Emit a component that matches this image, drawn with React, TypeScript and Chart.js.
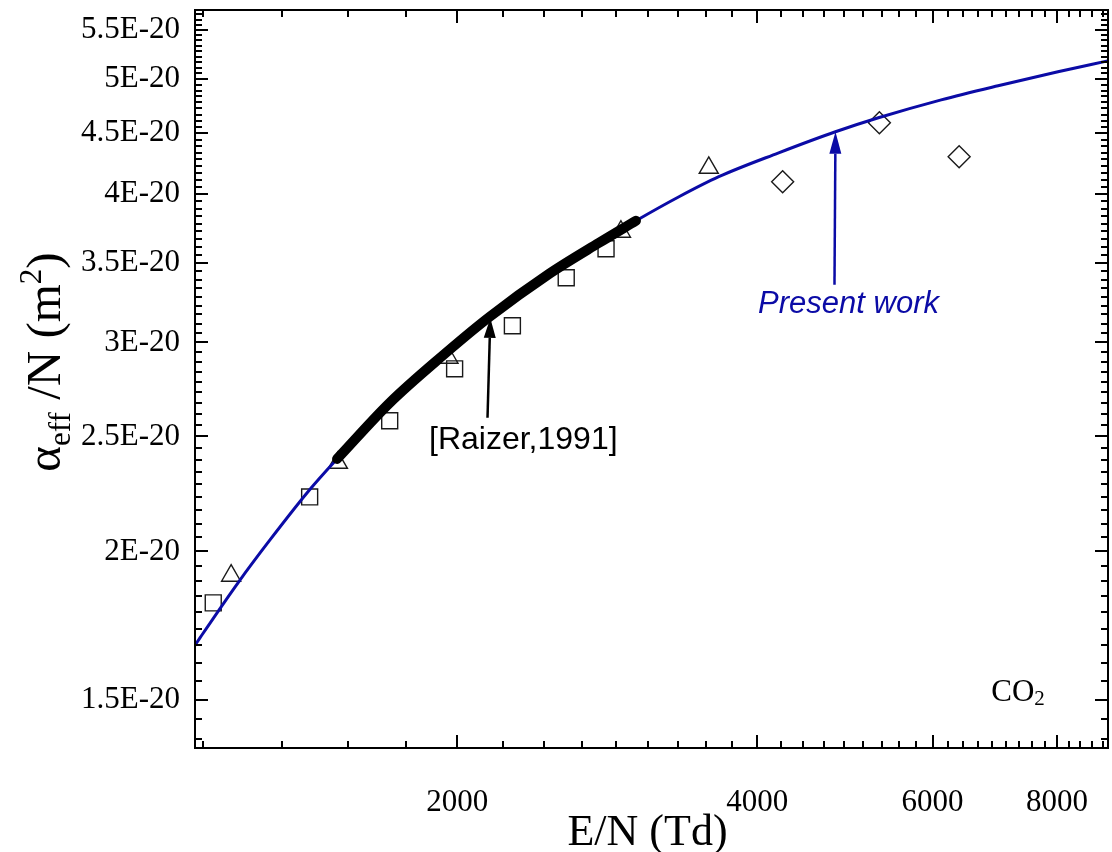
import React, { useEffect, useRef } from 'react';
import { Chart, registerables } from 'chart.js';

Chart.register(...registerables);

// ---- Data (E/N in Td, alpha_eff/N in m^2) ----
const presentWorkX = [1091, 1104, 1205, 1298, 1422, 1515, 1711, 1933, 2155, 2474, 2776, 3023, 3339, 3661, 4204, 4794, 5294, 6121, 6981, 8017, 8994];
const presentWorkY = [1.667e-20, 1.692e-20, 1.882e-20, 2.046e-20, 2.254e-20, 2.393e-20, 2.668e-20, 2.923e-20, 3.152e-20, 3.427e-20, 3.639e-20, 3.798e-20, 3.979e-20, 4.137e-20, 4.333e-20, 4.514e-20, 4.638e-20, 4.802e-20, 4.935e-20, 5.070e-20, 5.179e-20];

const raizerX = [1515, 1711, 1933, 2155, 2474, 2776, 3023];
const raizerY = [2.393e-20, 2.668e-20, 2.923e-20, 3.152e-20, 3.427e-20, 3.639e-20, 3.798e-20];

const squaresX = [1138, 1422, 1711, 1988, 2272, 2573, 2821];
const squaresY = [1.810e-20, 2.223e-20, 2.577e-20, 2.850e-20, 3.098e-20, 3.401e-20, 3.597e-20];

const trianglesX = [1186, 1518, 1960, 2920, 3577];
const trianglesY = [1.908e-20, 2.375e-20, 2.912e-20, 3.718e-20, 4.209e-20];

const diamondsX = [4243, 5306, 6380];
const diamondsY = [4.097e-20, 4.593e-20, 4.300e-20];

// ---- Axes ----
const xMin = 1091;
const xMax = 9000;
const yMin = 1.366e-20;
const yMax = 5.716e-20;
const xMajorTicks = [2000, 4000, 6000, 8000];
const xTickLabels = ['2000', '4000', '6000', '8000'];
const yMajorTicks = [1.5e-20, 2e-20, 2.5e-20, 3e-20, 3.5e-20, 4e-20, 4.5e-20, 5e-20, 5.5e-20];
const yTickLabels = ['1.5E-20', '2E-20', '2.5E-20', '3E-20', '3.5E-20', '4E-20', '4.5E-20', '5E-20', '5.5E-20'];
const minorPerMajor = 8;

// ---- Annotations (data coordinates) ----
const raizerLabel = { x: 2330, y: 2.483e-20, text: '[Raizer,1991]' };
const raizerArrow = { x0: 2145, y0: 2.592e-20, x1: 2159, y1: 3.146e-20 };
const presentLabel = { x: 4941, y: 3.227e-20, text: 'Present work' };
const presentArrow = { x0: 4783, y0: 3.355e-20, x1: 4794, y1: 4.514e-20 };
const gasLabel = { x: 7310, y: 1.529e-20 };

const BLUE = '#0b0ba6';
const SERIF = '"Liberation Serif", "Times New Roman", serif';
const SANS = '"Liberation Sans", Arial, sans-serif';

function buildTicks(majors: number[], min: number, max: number) {
  const step = (majors[1] - majors[0]) / (minorPerMajor + 1);
  const vals: { value: number; major: boolean }[] = [];
  const start = majors[0] - step * 20;
  for (let k = 0; k < 400; k++) {
    const v = start + k * step;
    if (v < min * 0.9999 || v > max * 1.0001) continue;
    const isMaj = majors.some((m) => Math.abs(m - v) < step * 0.01);
    vals.push({ value: v, major: isMaj });
  }
  return vals;
}

function labelFor(value: number, majors: number[], labels: string[]) {
  const step = majors[1] - majors[0];
  const i = majors.findIndex((m) => Math.abs(m - value) < step * 0.01);
  return i >= 0 ? labels[i] : '';
}

const zeroPad = (scale: any) => {
  scale.paddingTop = 0;
  scale.paddingBottom = 0;
  scale.paddingLeft = 0;
  scale.paddingRight = 0;
};

const framePlugin = {
  id: 'frameAndAnnotations',
  afterDraw(chart: any) {
    const { ctx, chartArea, scales } = chart;
    const { left, right, top, bottom } = chartArea;
    const xs = scales.x;
    const ys = scales.y;
    ctx.save();
    ctx.strokeStyle = '#000';
    ctx.lineWidth = 2;
    buildTicks(xMajorTicks, xMin, xMax).forEach((t) => {
      const px = Math.round(xs.getPixelForValue(t.value));
      const len = t.major ? 13 : 7;
      ctx.beginPath();
      ctx.moveTo(px, bottom);
      ctx.lineTo(px, bottom - len);
      ctx.moveTo(px, top);
      ctx.lineTo(px, top + len);
      ctx.stroke();
    });
    buildTicks(yMajorTicks, yMin, yMax).forEach((t) => {
      const py = Math.round(ys.getPixelForValue(t.value));
      const len = t.major ? 13 : 7;
      ctx.beginPath();
      ctx.moveTo(left, py);
      ctx.lineTo(left + len, py);
      ctx.moveTo(right, py);
      ctx.lineTo(right - len, py);
      ctx.stroke();
    });
    ctx.strokeRect(left, top, right - left, bottom - top);

    const drawArrow = (a: any, color: string, lw: number, headLen: number, headW: number) => {
      const x0 = xs.getPixelForValue(a.x0);
      const y0 = ys.getPixelForValue(a.y0);
      const x1 = xs.getPixelForValue(a.x1);
      const y1 = ys.getPixelForValue(a.y1);
      const ang = Math.atan2(y1 - y0, x1 - x0);
      const bx = x1 - Math.cos(ang) * headLen;
      const by = y1 - Math.sin(ang) * headLen;
      ctx.strokeStyle = color;
      ctx.fillStyle = color;
      ctx.lineWidth = lw;
      ctx.beginPath();
      ctx.moveTo(x0, y0);
      ctx.lineTo(bx, by);
      ctx.stroke();
      ctx.beginPath();
      ctx.moveTo(x1, y1);
      ctx.lineTo(bx + Math.sin(ang) * headW / 2, by - Math.cos(ang) * headW / 2);
      ctx.lineTo(bx - Math.sin(ang) * headW / 2, by + Math.cos(ang) * headW / 2);
      ctx.closePath();
      ctx.fill();
    };
    drawArrow(raizerArrow, '#000', 2.5, 20, 12);
    drawArrow(presentArrow, BLUE, 2.5, 22, 12);

    ctx.textAlign = 'center';
    ctx.textBaseline = 'middle';
    ctx.fillStyle = '#000';
    ctx.font = `32px ${SANS}`;
    ctx.fillText(raizerLabel.text, xs.getPixelForValue(raizerLabel.x), ys.getPixelForValue(raizerLabel.y));
    ctx.fillStyle = BLUE;
    ctx.font = `italic 31px ${SANS}`;
    ctx.fillText(presentLabel.text, xs.getPixelForValue(presentLabel.x), ys.getPixelForValue(presentLabel.y));

    {
      const gx = xs.getPixelForValue(gasLabel.x);
      const gy = ys.getPixelForValue(gasLabel.y);
      ctx.fillStyle = '#000';
      ctx.font = `31px ${SERIF}`;
      const w1 = ctx.measureText('CO').width;
      ctx.font = `21px ${SERIF}`;
      const w2 = ctx.measureText('2').width;
      const sx = gx - (w1 + w2) / 2;
      ctx.textAlign = 'left';
      ctx.textBaseline = 'alphabetic';
      ctx.font = `31px ${SERIF}`;
      ctx.fillText('CO', sx, gy + 11);
      ctx.font = `21px ${SERIF}`;
      ctx.fillText('2', sx + w1, gy + 15);
    }

    ctx.fillStyle = '#000';
    ctx.textAlign = 'center';
    ctx.textBaseline = 'alphabetic';
    ctx.font = `44px ${SERIF}`;
    ctx.fillText('E/N (Td)', (left + right) / 2 - 4, 845);

    {
      const big = `49px ${SERIF}`;
      const small = `31px ${SERIF}`;
      const parts = [
        { t: '\u03B1', f: big, dy: 0 },
        { t: 'eff', f: small, dy: 10 },
        { t: ' /N (m', f: big, dy: 0 },
        { t: '2', f: small, dy: -19 },
        { t: ')', f: big, dy: 0 },
      ];
      let total = 0;
      const widths = parts.map((p) => {
        ctx.font = p.f;
        const w = ctx.measureText(p.t).width;
        total += w;
        return w;
      });
      ctx.translate(44, 362);
      ctx.rotate(-Math.PI / 2);
      ctx.textAlign = 'left';
      ctx.textBaseline = 'alphabetic';
      let cx = -total / 2;
      parts.forEach((p, i) => {
        ctx.font = p.f;
        ctx.fillText(p.t, cx, 16 + p.dy);
        cx += widths[i];
      });
    }
    ctx.restore();
  },
};

export default function App() {
  const canvasRef = useRef<HTMLCanvasElement | null>(null);

  useEffect(() => {
    if (!canvasRef.current) return;
    const toPts = (xs: number[], ys: number[]) => xs.map((x, i) => ({ x, y: ys[i] }));
    const markerCommon = {
      showLine: false,
      backgroundColor: 'rgba(0,0,0,0)',
      borderColor: '#1a1a1a',
      pointBorderWidth: 1.4,
    };
    const chart = new Chart(canvasRef.current, {
      type: 'scatter',
      data: {
        datasets: [
          {
            label: 'Raizer 1991',
            data: toPts(raizerX, raizerY),
            showLine: true,
            borderColor: '#000',
            borderWidth: 10,
            borderCapStyle: 'round',
            borderJoinStyle: 'round',
            pointRadius: 0,
            cubicInterpolationMode: 'monotone',
            fill: false,
          },
          {
            label: 'Present work',
            data: toPts(presentWorkX, presentWorkY),
            showLine: true,
            borderColor: BLUE,
            borderWidth: 3,
            pointRadius: 0,
            cubicInterpolationMode: 'monotone',
            fill: false,
          },
          { label: 'squares', data: toPts(squaresX, squaresY), pointStyle: 'rect', pointRadius: 11.3, ...markerCommon },
          { label: 'triangles', data: toPts(trianglesX, trianglesY), pointStyle: 'triangle', pointRadius: 11, ...markerCommon },
          { label: 'diamonds', data: toPts(diamondsX, diamondsY), pointStyle: 'rectRot', pointRadius: 11, ...markerCommon },
        ],
      } as any,
      options: {
        animation: false,
        responsive: false,
        devicePixelRatio: 1,
        layout: { autoPadding: false, padding: { left: 0, right: 4, top: 10, bottom: 0 } },
        plugins: { legend: { display: false }, tooltip: { enabled: false } },
        events: [],
        scales: {
          x: {
            type: 'logarithmic',
            min: xMin,
            max: xMax,
            grid: { display: false, drawTicks: false },
            border: { display: false },
            afterBuildTicks: (scale: any) => {
              scale.ticks = xMajorTicks.map((v) => ({ value: v }));
            },
            afterFit: (scale: any) => {
              scale.height = 104;
              zeroPad(scale);
            },
            ticks: {
              autoSkip: false,
              maxRotation: 0,
              minRotation: 0,
              padding: 36,
              color: '#000',
              font: { family: SERIF, size: 31 },
              callback: (value: any) => labelFor(Number(value), xMajorTicks, xTickLabels),
            },
          },
          y: {
            type: 'logarithmic',
            min: yMin,
            max: yMax,
            grid: { display: false, drawTicks: false },
            border: { display: false },
            afterBuildTicks: (scale: any) => {
              scale.ticks = yMajorTicks.map((v) => ({ value: v }));
            },
            afterFit: (scale: any) => {
              scale.width = 195;
              zeroPad(scale);
            },
            ticks: {
              autoSkip: false,
              padding: 15,
              color: '#000',
              font: { family: SERIF, size: 31 },
              callback: (value: any) => labelFor(Number(value), yMajorTicks, yTickLabels),
            },
          },
        },
      } as any,
      plugins: [framePlugin],
    });
    return () => chart.destroy();
  }, []);

  return (
    <div style={{ position: 'fixed', left: 0, top: 0, width: 1112, height: 852, background: '#fff' }}>
      <canvas ref={canvasRef} width={1112} height={852} />
    </div>
  );
}
